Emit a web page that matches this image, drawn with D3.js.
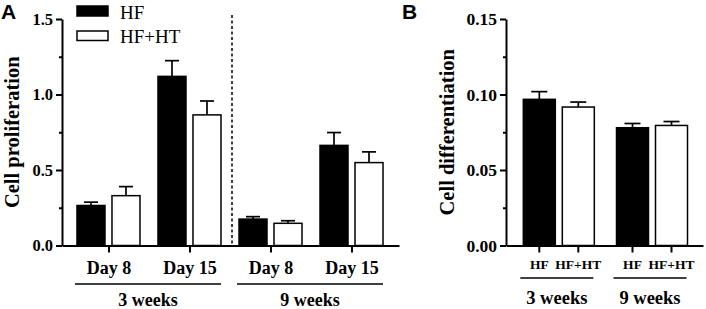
<!DOCTYPE html>
<html>
<head>
<meta charset="utf-8">
<script src="https://cdn.jsdelivr.net/npm/d3@7/dist/d3.min.js"></script>
<style>
  html, body { margin: 0; padding: 0; background: #fff; }
  svg { display: block; }
</style>
</head>
<body>
<svg id="chart" width="706" height="309"></svg>
<script>
// ---------------- DATA ----------------
const seriesNames = ["HF", "HF+HT"];

// Panel A: cell proliferation
const groupsA = ["3w-Day 8", "3w-Day 15", "9w-Day 8", "9w-Day 15"];
const tickLabelsA = ["Day 8", "Day 15", "Day 8", "Day 15"];
const weeksA = ["3 weeks", "9 weeks"];
const prolifHF = [0.265, 1.12, 0.175, 0.663];
const prolifHFErr = [0.022, 0.104, 0.016, 0.085];
const prolifHT = [0.33, 0.865, 0.147, 0.549];
const prolifHTErr = [0.06, 0.092, 0.017, 0.071];
const yTicksA = [0, 0.5, 1.0, 1.5];
const yMinorA = [0.25, 0.75, 1.25];

// Panel B: cell differentiation
const groupsB = ["3 weeks", "9 weeks"];
const diffHF = [0.0968, 0.078];
const diffHFErr = [0.0051, 0.0028];
const diffHT = [0.0917, 0.0795];
const diffHTErr = [0.0033, 0.0026];
const yTicksB = [0, 0.05, 0.10, 0.15];
const yMinorB = [0.025, 0.075, 0.125];

// ---------------- DRAW ----------------
const SERIF = '"Liberation Serif"';
const SANS = '"Liberation Sans"';
const svg = d3.select("#chart").attr("font-family", SERIF);
svg.append("rect").attr("width", 706).attr("height", 309).attr("fill", "#fff");

const y0 = 245.5, yTop = 19;

function styleAxis(g) {
  g.attr("font-family", SERIF);
  g.selectAll(".domain").attr("stroke", "#000").attr("stroke-width", 2);
  g.selectAll(".tick line").attr("stroke", "#000").attr("stroke-width", 2);
}

function drawBars(g, data, yS, bw) {
  data.forEach(d => {
    g.append("rect")
      .attr("x", d.x).attr("y", yS(d.v))
      .attr("width", bw).attr("height", yS(0) - yS(d.v))
      .attr("fill", d.s === "HF" ? "#000" : "#fff")
      .attr("stroke", "#000").attr("stroke-width", 1.5);
    const cx = d.x + bw / 2;
    g.append("line").attr("x1", cx).attr("x2", cx)
      .attr("y1", yS(d.v)).attr("y2", yS(d.v + d.e))
      .attr("stroke", "#000").attr("stroke-width", 1.7);
    g.append("line").attr("x1", cx - bw / 4).attr("x2", cx + bw / 4)
      .attr("y1", yS(d.v + d.e)).attr("y2", yS(d.v + d.e))
      .attr("stroke", "#000").attr("stroke-width", 1.7);
  });
}

// ===== Panel A =====
const axA = 62, axAEnd = 399;
const yA = d3.scaleLinear().domain([0, 1.5]).range([y0, yTop]);
const xA = d3.scaleBand().domain(groupsA).range([axA, axAEnd]).paddingInner(0).paddingOuter(0.08);
const xAin = d3.scaleBand().domain(seriesNames).range([8.5, 71.5]).paddingInner(0.2);

const barsA = [];
groupsA.forEach((g, i) => {
  barsA.push({ s: "HF", x: xA(g) + xAin("HF"), v: prolifHF[i], e: prolifHFErr[i] });
  barsA.push({ s: "HF+HT", x: xA(g) + xAin("HF+HT"), v: prolifHT[i], e: prolifHTErr[i] });
});
drawBars(svg.append("g"), barsA, yA, xAin.bandwidth());

// dashed separator
const sepX = xA(groupsA[2]) + 1.5;
svg.append("line").attr("x1", sepX).attr("x2", sepX).attr("y1", 15).attr("y2", y0)
  .attr("stroke", "#000").attr("stroke-width", 1.5).attr("stroke-dasharray", "3,2.5");

// y axis A
const gyA = svg.append("g").attr("transform", `translate(${axA},0)`)
  .call(d3.axisLeft(yA).tickValues(yTicksA).tickSize(6).tickSizeOuter(0).tickPadding(3).tickFormat(d3.format(".1f")));
styleAxis(gyA);
gyA.selectAll("text").attr("font-family", SERIF).attr("font-weight", "bold").attr("font-size", 16.5).attr("fill", "#000");
const gyAm = svg.append("g").attr("transform", `translate(${axA},0)`)
  .call(d3.axisLeft(yA).tickValues(yMinorA).tickSize(3).tickFormat(""));
gyAm.select(".domain").remove();
styleAxis(gyAm);

// x axis A
const gxA = svg.append("g").attr("transform", `translate(0,${y0})`)
  .call(d3.axisBottom(xA).tickSize(7).tickSizeOuter(0).tickFormat((d, i) => tickLabelsA[i]));
styleAxis(gxA);
gxA.selectAll("text").attr("font-family", SERIF).attr("font-weight", "bold").attr("font-size", 18)
  .attr("fill", "#000").attr("y", 0).attr("dy", 28);

// week underlines A
weeksA.forEach((w, k) => {
  const g1 = groupsA[2 * k], g2 = groupsA[2 * k + 1];
  const x1 = xA(g1) + xAin("HF") - 2, x2 = xA(g2) + xAin("HF+HT") + xAin.bandwidth();
  svg.append("line").attr("x1", x1).attr("x2", x2).attr("y1", 284).attr("y2", 284)
    .attr("stroke", "#000").attr("stroke-width", 1.5);
  svg.append("text").attr("x", (x1 + x2) / 2).attr("y", 306).attr("text-anchor", "middle")
    .attr("font-family", SERIF).attr("font-weight", "bold").attr("font-size", 18).text(w);
});

// y label A
svg.append("text").attr("transform", `translate(18.5,${(y0 + yTop) / 2}) rotate(-90)`)
  .attr("text-anchor", "middle").attr("font-family", SERIF).attr("font-weight", "bold").attr("font-size", 20.5)
  .text("Cell proliferation");

// legend
svg.append("rect").attr("x", 77).attr("y", 6).attr("width", 31).attr("height", 10)
  .attr("fill", "#000").attr("stroke", "#000").attr("stroke-width", 1.5);
svg.append("rect").attr("x", 77).attr("y", 31).attr("width", 31).attr("height", 9.5)
  .attr("fill", "#fff").attr("stroke", "#000").attr("stroke-width", 1.5);
svg.append("text").attr("x", 120).attr("y", 18.5).attr("font-family", SERIF).attr("font-size", 19).text(seriesNames[0]);
svg.append("text").attr("x", 120).attr("y", 42.5).attr("font-family", SERIF).attr("font-size", 19).text(seriesNames[1]);

// panel label A
svg.append("text").attr("x", 1).attr("y", 19).attr("font-family", SANS)
  .attr("font-weight", "bold").attr("font-size", 21).text("A");

// ===== Panel B =====
const axB = 506, axBEnd = 703;
const yB = d3.scaleLinear().domain([0, 0.15]).range([y0, yTop]);
const xB = d3.scaleBand().domain(groupsB).range([axB, axBEnd]).paddingInner(0).paddingOuter(0.057);
const xBin = d3.scaleBand().domain(seriesNames).range([12, 83]).paddingInner(0.1795);

const barsB = [];
groupsB.forEach((g, i) => {
  barsB.push({ s: "HF", x: xB(g) + xBin("HF"), v: diffHF[i], e: diffHFErr[i] });
  barsB.push({ s: "HF+HT", x: xB(g) + xBin("HF+HT"), v: diffHT[i], e: diffHTErr[i] });
});
drawBars(svg.append("g"), barsB, yB, xBin.bandwidth());

// y axis B
const gyB = svg.append("g").attr("transform", `translate(${axB},0)`)
  .call(d3.axisLeft(yB).tickValues(yTicksB).tickSize(6).tickSizeOuter(0).tickPadding(3).tickFormat(d3.format(".2f")));
styleAxis(gyB);
gyB.selectAll("text").attr("font-family", SERIF).attr("font-weight", "bold").attr("font-size", 17.5).attr("fill", "#000");
const gyBm = svg.append("g").attr("transform", `translate(${axB},0)`)
  .call(d3.axisLeft(yB).tickValues(yMinorB).tickSize(3).tickFormat(""));
gyBm.select(".domain").remove();
styleAxis(gyBm);

// x axis B (domain only)
const gxB = svg.append("g").attr("transform", `translate(0,${y0})`)
  .call(d3.axisBottom(xB).tickValues([]).tickSizeOuter(0));
styleAxis(gxB);
groupsB.forEach(g => {
  const gg = svg.append("g").attr("transform", `translate(${xB(g)},${y0})`)
    .call(d3.axisBottom(xBin).tickSize(7).tickSizeOuter(0));
  gg.select(".domain").remove();
  styleAxis(gg);
  gg.selectAll("text").attr("font-family", SERIF).attr("font-weight", "bold").attr("font-size", 13.5)
    .attr("fill", "#000").attr("y", 0).attr("dy", 23.5);
  const x1 = xB(g) + xBin("HF") - 3, x2 = xB(g) + xBin("HF+HT") + xBin.bandwidth() - 1;
  svg.append("line").attr("x1", x1).attr("x2", x2).attr("y1", 278).attr("y2", 278)
    .attr("stroke", "#000").attr("stroke-width", 1.5);
  svg.append("text").attr("x", (x1 + x2) / 2).attr("y", 304).attr("text-anchor", "middle")
    .attr("font-family", SERIF).attr("font-weight", "bold").attr("font-size", 18.5).text(g);
});

// y label B
svg.append("text").attr("transform", `translate(453.5,${(y0 + yTop) / 2}) rotate(-90)`)
  .attr("text-anchor", "middle").attr("font-family", SERIF).attr("font-weight", "bold").attr("font-size", 20.5)
  .text("Cell differentiation");

// panel label B
svg.append("text").attr("x", 402).attr("y", 19).attr("font-family", SANS)
  .attr("font-weight", "bold").attr("font-size", 21).text("B");
</script>
</body>
</html>
